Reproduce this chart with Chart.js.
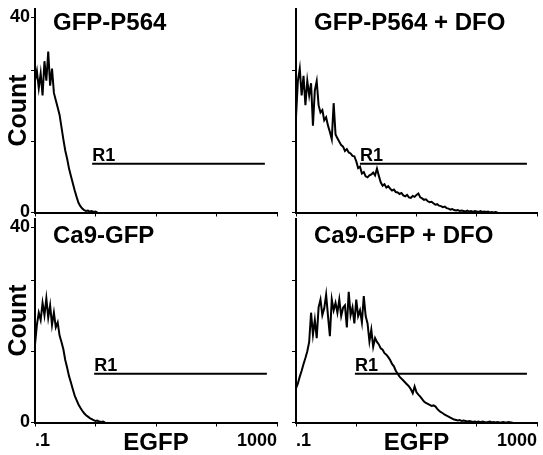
<!DOCTYPE html>
<html>
<head>
<meta charset="utf-8">
<script src="https://cdn.jsdelivr.net/npm/chart.js@4.4.1/dist/chart.umd.min.js"></script>
<style>
  body { margin: 0; background: #fff; }
  #wrap { position: relative; width: 543px; height: 455px; overflow: hidden; }
  canvas { position: absolute; }
</style>
</head>
<body>
<div id="wrap">
  <canvas id="c1"></canvas>
  <canvas id="c2"></canvas>
  <canvas id="c3"></canvas>
  <canvas id="c4"></canvas>
</div>
<script>
// panel names
const titles = ['GFP-P564', 'GFP-P564 + DFO', 'Ca9-GFP', 'Ca9-GFP + DFO'];

// axes
const xTickValues = [0.1, 1, 10, 100, 1000];
const xTickLabels = ['.1', '', '', '', '1000'];
const yTickValues = [0, 14.5, 29, 40];
const yTickLabels = ['0', '', '', '40'];
const yMax = 41.8;

// R1 gate (count level, start / end EGFP per panel)
const gateLevel = 10;
const gateStart = [0.88, 1.15, 0.95, 0.95];
const gateEnd = [630, 680, 680, 680];

// histogram counts, one value per channel (32 channels per decade, from 0.1)
const countsGfpP564 = [27, 29, 25.5, 28.5, 24, 31, 27, 33, 26, 29.5,
  24.5, 23, 21.5, 20, 17.5, 15, 12.7, 11, 9, 7.5,
  6, 4.5, 3.2, 2, 1.3, 0.8, 0.5, 0.3, 0.4, 0.2,
  0.3, 0.1, 0.2, 0];

const countsGfpP564Dfo = [19.5, 27, 29.5, 24, 28, 22, 27, 24, 26.5, 17.8,
  25, 26.9, 22, 20.5, 21, 18.9, 19.5, 17.8, 16.5, 15,
  22.4, 16, 15.2, 14.5, 13.8, 13.5, 12.6, 13, 12.3, 12.1,
  11.6, 11.5, 10.5, 9.1, 9.4, 8, 8.3, 7.4, 7.2, 7.6,
  7.8, 8.2, 7.6, 9, 7.5, 6.2, 5.5, 5.8, 5.1, 5.4,
  4.9, 4.5, 4.7, 4.2, 4.1, 3.8, 4, 3.5, 3.3, 3.6,
  3.1, 3, 3.4, 3.2, 3.6, 3.9, 3.1, 2.9, 2.6, 2.7,
  2.3, 2.1, 2.2, 1.9, 1.6, 1.7, 1.4, 1.3, 1.1, 1.2,
  0.9, 0.8, 0.6, 0.7, 0.5, 0.4, 0.5, 0.3, 0.4, 0.3,
  0.2, 0.4, 0.2, 0.3, 0.1, 0.3, 0.2, 0.1, 0.3, 0.1,
  0.2, 0.1, 0.2, 0, 0.1, 0, 0.1, 0];

const countsCa9Gfp = [16, 20, 22.5, 21, 24.5, 22, 25.4, 21.5, 24, 20,
  22.5, 19.5, 20.5, 17.8, 16.5, 15, 12.8, 11.2, 9.5, 8.2,
  6.8, 5.5, 4.6, 3.7, 3, 2.4, 1.9, 1.5, 1.2, 0.9,
  0.7, 0.5, 0.3, 0.4, 0.2, 0.1, 0.2, 0];

const countsCa9GfpDfo = [7, 8, 9.4, 10.6, 12, 13.2, 14.6, 16.5, 22.5, 18,
  21, 17.3, 23.6, 25.2, 22, 23.4, 26.2, 21.8, 17.7, 25.2,
  23, 24.5, 22.5, 25.2, 21.8, 23.5, 24, 19.5, 26.8, 22,
  23.6, 20.3, 25.2, 21.8, 23, 20.5, 25.9, 21.8, 20.3, 16.6,
  19, 15.5, 17.3, 16.5, 16, 15.2, 14.9, 14.2, 13.9, 13.4,
  12.8, 12, 11.5, 10.6, 10, 9.4, 9, 8.6, 8.2, 7.8,
  7.4, 6.8, 6, 7.4, 6.2, 5.7, 5.3, 4.8, 4.3, 4,
  3.8, 3.6, 3.4, 3.5, 3.3, 2.8, 2.4, 2.1, 1.9, 1.6,
  1.4, 1.2, 1, 0.8, 0.6, 0.5, 0.4, 0.5, 0.3, 0.4,
  0.3, 0.2, 0.3, 0.2, 0.1, 0.2, 0.1, 0.2, 0, 0.2,
  0.1, 0, 0.1, 0.2, 0, 0.1, 0, 0.1, 0, 0,
  0.1, 0, 0, 0.1, 0, 0];

const seriesList = [countsGfpP564, countsGfpP564Dfo, countsCa9Gfp, countsCa9GfpDfo];

const CHANNELS_PER_DECADE = 32;
const FONT = "'Liberation Sans', Arial, sans-serif";

Chart.defaults.font.family = FONT;
Chart.defaults.color = '#000';

// canvas placement for each panel
const panels = [
  { id: 'c1', left: 0,   top: 0,   width: 290, height: 222, padTop: 8.5, padRight: 13, xAxisH: 9.5,  leftCol: true,  bottomRow: false, titleDy: 15 },
  { id: 'c2', left: 261, top: 0,   width: 282, height: 222, padTop: 8.5, padRight: 6,  xAxisH: 9.5,  leftCol: false, bottomRow: false, titleDy: 15 },
  { id: 'c3', left: 0,   top: 212, width: 290, height: 243, padTop: 6.5, padRight: 13, xAxisH: 32.5, leftCol: true,  bottomRow: true,  titleDy: 18 },
  { id: 'c4', left: 261, top: 212, width: 282, height: 243, padTop: 6.5, padRight: 6,  xAxisH: 32.5, leftCol: false, bottomRow: true,  titleDy: 18 }
];

const panelText = {
  id: 'panelText',
  afterDatasetsDraw(chart, args, opts) {
    const { ctx, chartArea } = chart;
    ctx.save();
    ctx.fillStyle = '#000';
    ctx.font = 'bold 24px ' + FONT;
    ctx.textBaseline = 'middle';
    ctx.textAlign = 'left';
    ctx.fillText(opts.title, chartArea.left + 18, chartArea.top + opts.titleDy);
    const p = chart.getDatasetMeta(1).data[0];
    ctx.font = 'bold 18px ' + FONT;
    ctx.textBaseline = 'alphabetic';
    ctx.fillText('R1', p.x, p.y - 3);
    ctx.restore();
  }
};

panels.forEach((pn, k) => {
  const cv = document.getElementById(pn.id);
  cv.width = pn.width;
  cv.height = pn.height;
  cv.style.left = pn.left + 'px';
  cv.style.top = pn.top + 'px';

  const counts = seriesList[k];
  const points = counts.map((c, i) => ({ x: Math.pow(10, -1 + i / CHANNELS_PER_DECADE), y: c }));
  const yTicks = pn.leftCol ? yTickValues : yTickValues.slice(0, 3);

  new Chart(cv.getContext('2d'), {
    type: 'line',
    data: {
      datasets: [
        { data: points, borderColor: '#000', borderWidth: 2, pointRadius: 0, tension: 0 },
        { data: [{ x: gateStart[k], y: gateLevel }, { x: gateEnd[k], y: gateLevel }],
          borderColor: '#000', borderWidth: 2, pointRadius: 0 }
      ]
    },
    options: {
      responsive: false,
      animation: false,
      events: [],
      layout: { padding: { top: pn.padTop, right: pn.padRight, left: 0, bottom: 0 } },
      plugins: {
        legend: { display: false },
        tooltip: { enabled: false },
        panelText: { title: titles[k], titleDy: pn.titleDy }
      },
      scales: {
        x: {
          type: 'logarithmic',
          min: 0.1,
          max: 1000,
          afterBuildTicks: s => { s.ticks = xTickValues.map(v => ({ value: v })); },
          afterFit: s => { s.height = pn.xAxisH; s.paddingLeft = 0; s.paddingRight = 0; },
          ticks: {
            display: pn.bottomRow,
            align: 'inner',
            maxRotation: 0,
            padding: 4,
            font: { size: 18, weight: 'bold' },
            callback: (v, i) => xTickLabels[i]
          },
          grid: { drawOnChartArea: false, drawTicks: true, tickLength: 4, color: '#000', lineWidth: 1 },
          border: { color: '#000', width: 2 },
          title: {
            display: pn.bottomRow,
            text: 'EGFP',
            font: { size: 24, weight: 'bold', lineHeight: 1 },
            padding: { top: 0, bottom: 0 }
          }
        },
        y: {
          min: 0,
          max: yMax,
          afterBuildTicks: s => { s.ticks = yTicks.map(v => ({ value: v })); },
          afterFit: s => { s.width = 35; s.paddingTop = 0; s.paddingBottom = 0; },
          ticks: {
            display: pn.leftCol,
            padding: 1,
            font: { size: 18, weight: 'bold' },
            callback: (v, i) => yTickLabels[i]
          },
          grid: { drawOnChartArea: false, drawTicks: true, tickLength: 4, color: '#000', lineWidth: 1 },
          border: { color: '#000', width: 2 },
          title: {
            display: pn.leftCol,
            text: 'Count',
            font: { size: 25, weight: 'bold' },
            padding: { top: 4, bottom: 0 }
          }
        }
      }
    },
    plugins: [panelText]
  });
});
</script>
</body>
</html>
